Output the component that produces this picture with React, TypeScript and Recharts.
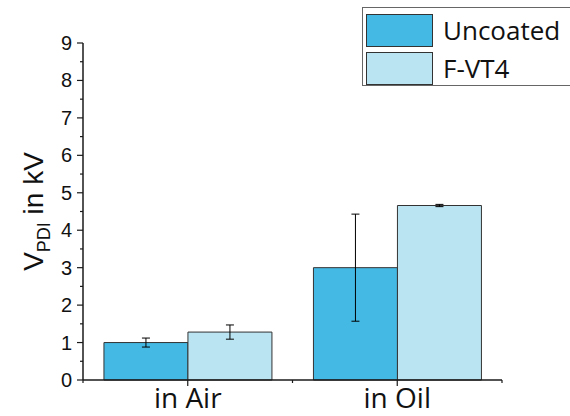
import { BarChart, Bar, XAxis, YAxis, ErrorBar } from "recharts";

const categories = ["in Air", "in Oil"];
const uncoated = [1.0, 3.0];
const uncoatedErr = [0.12, 1.43];
const fvt4 = [1.28, 4.66];
const fvt4Err = [0.19, 0.03];
const yTicks = [0, 0.5, 1, 1.5, 2, 2.5, 3, 3.5, 4, 4.5, 5, 5.5, 6, 6.5, 7, 7.5, 8, 8.5, 9];

const series = [
  { key: "uncoated", err: "uncoatedErr", name: "Uncoated", color: "#44b9e4" },
  { key: "fvt4", err: "fvt4Err", name: "F-VT4", color: "#bae4f1" },
];

const data = categories.map((c, i) => ({
  cat: c,
  uncoated: uncoated[i],
  uncoatedErr: uncoatedErr[i],
  fvt4: fvt4[i],
  fvt4Err: fvt4Err[i],
}));

const ARIAL = "'Liberation Sans', Arial, sans-serif";
const SANS = "'Open Sans', 'Noto Sans', sans-serif";
const AXIS = "#1a1a1a";

function YTick(props: any) {
  const { x, y, payload } = props;
  const major = Number.isInteger(payload.value);
  return (
    <g>
      <line x1={x - (major ? 6 : 3)} y1={y} x2={x} y2={y} stroke={AXIS} strokeWidth={1.2} />
      {major && (
        <text x={x - 11} y={y} dy={7} textAnchor="end" fontSize={20} fontFamily={ARIAL} fill="#111">
          {payload.value}
        </text>
      )}
    </g>
  );
}

function XTick(props: any) {
  const { x, y, payload, width, index } = props;
  const half = width / categories.length / 2;
  return (
    <g>
      <line x1={x} y1={y} x2={x} y2={y + 6} stroke={AXIS} strokeWidth={1.2} />
      <line x1={x + half} y1={y} x2={x + half} y2={y + 3} stroke={AXIS} strokeWidth={1.2} />
      {index === 0 && <line x1={x - half} y1={y} x2={x - half} y2={y + 3} stroke={AXIS} strokeWidth={1.2} />}
      <text x={x} y={y + 28} textAnchor="middle" fontSize={28} fontFamily={SANS} fill="#111">
        {payload.value}
      </text>
    </g>
  );
}

function YLabel(props: any) {
  const { viewBox } = props;
  const cx = viewBox.x + 43;
  const cy = viewBox.y + viewBox.height / 2;
  return (
    <text
      x={cx}
      y={cy}
      transform={`rotate(-90 ${cx} ${cy})`}
      textAnchor="middle"
      fontFamily={ARIAL}
      fontSize={28}
      fill="#111"
    >
      <tspan>V</tspan>
      <tspan fontSize={18} dy={7}>PDI</tspan>
      <tspan dy={-7}> in kV</tspan>
    </text>
  );
}

function LegendBox() {
  return (
    <div
      style={{
        position: "absolute",
        left: 362,
        top: 7,
        width: 215,
        height: 79,
        border: "1.5px solid #666",
        background: "#fff",
        boxSizing: "border-box",
        padding: "3px 0 0 3px",
      }}
    >
      {series.map((s) => (
        <div key={s.key} style={{ display: "flex", alignItems: "center", height: 38 }}>
          <div
            style={{
              width: 67,
              height: 33,
              background: s.color,
              border: "1px solid #333",
              boxSizing: "border-box",
            }}
          />
          <span style={{ marginLeft: 10, fontFamily: SANS, fontSize: 26, color: "#111", lineHeight: "33px" }}>
            {s.name}
          </span>
        </div>
      ))}
    </div>
  );
}

export default function App() {
  return (
    <div style={{ position: "absolute", left: 0, top: 0, width: 570, height: 416, overflow: "hidden", background: "#fff" }}>
      <BarChart
        width={570}
        height={416}
        data={data}
        margin={{ top: 43, right: 68, left: 0, bottom: 0 }}
        barCategoryGap="10%"
        barGap={0}
      >
        <XAxis
          dataKey="cat"
          height={36}
          stroke={AXIS}
          strokeWidth={1.5}
          tickLine={false}
          tickSize={0}
          tickMargin={0}
          interval={0}
          tick={<XTick />}
        />
        <YAxis
          width={83}
          domain={[0, 9]}
          ticks={yTicks}
          interval={0}
          stroke={AXIS}
          strokeWidth={1.5}
          tickLine={false}
          tickSize={0}
          tickMargin={0}
          tick={<YTick />}
          label={{ content: <YLabel /> }}
        />
        {series.map((s) => (
          <Bar
            key={s.key}
            dataKey={s.key}
            name={s.name}
            fill={s.color}
            stroke="#333"
            strokeWidth={1}
            isAnimationActive={false}
          >
            <ErrorBar dataKey={s.err} width={4} stroke="#000" strokeWidth={1} isAnimationActive={false} />
          </Bar>
        ))}
      </BarChart>
      <LegendBox />
    </div>
  );
}
